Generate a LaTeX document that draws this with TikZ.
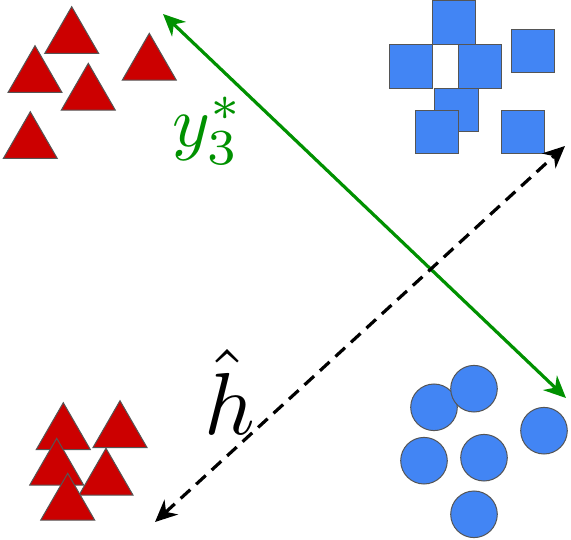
\documentclass[tikz,border=0pt]{standalone}
\usetikzlibrary{arrows.meta}
\definecolor{tred}{RGB}{204,0,0}
\definecolor{sblue}{RGB}{66,133,244}
\definecolor{edgegray}{RGB}{85,85,85}
\definecolor{agreen}{RGB}{0,145,0}
\tikzset{
  shapeedge/.style={draw=edgegray, line width=1pt},
  tri/.style={shapeedge, fill=tred},
  sq/.style={shapeedge, fill=sblue},
  circ/.style={shapeedge, fill=sblue},
  headtip/.style={Stealth[length=22pt,width=20pt,inset=7pt]},
  greenarrow/.style={draw=agreen, line width=3.2pt, {Stealth[length=22pt,width=20pt,inset=7pt]}-{Stealth[length=22pt,width=20pt,inset=7pt]}},
  dasharrow/.style={draw=black, line width=3.2pt, dash pattern=on 13pt off 8pt, {Stealth[length=22pt,width=20pt,inset=7pt]}-{Stealth[length=22pt,width=20pt,inset=7pt]}},
}
\begin{document}
\begin{tikzpicture}[x=1pt,y=-1pt]
\useasboundingbox (0,0) rectangle (571,540);
% top-left triangles (apex positions)
\foreach \x/\y in {71.7/6.7, 35/45.7, 88.3/63.3, 149.3/33.3, 30.3/111.7}
  \draw[tri] (\x,\y) -- ++(-27,46.8) -- ++(54,0) -- cycle;
% bottom-left triangles
\foreach \x/\y in {63.3/402.7, 120/400.7, 56.7/438.3, 106/448.3, 67.7/473.3}
  \draw[tri] (\x,\y) -- ++(-27,46.8) -- ++(54,0) -- cycle;
% squares (top-left corners)
\foreach \x/\y in {432.3/1, 389.3/45, 458.3/45, 511.3/29.3, 434.7/88.3, 415.3/110.3, 501.3/110.3}
  \draw[sq] (\x,\y) rectangle ++(43.5,43.3);
% circles
\foreach \x/\y in {434/407.3, 474/388.7, 544/430.7, 424/460.7, 484/457.7, 474/514.3}
  \draw[circ] (\x,\y) circle[radius=23.3];
% arrows
\coordinate (g1) at (163,14);
\coordinate (g2) at (566,398);
\coordinate (d1) at (155,522);
\coordinate (d2) at (565,146);
\draw[greenarrow] (g1) -- (g2);
\draw[dasharrow] (d1) -- (d2);
% labels
\node[text=agreen, inner sep=0pt, scale=7.2, transform shape] (ylab) at (208,131) {$y_3^*$};
\node[text=black, inner sep=0pt, scale=8.8, transform shape] (hlab) at (230,392) {$\hat{h}$};
\end{tikzpicture}
\end{document}
